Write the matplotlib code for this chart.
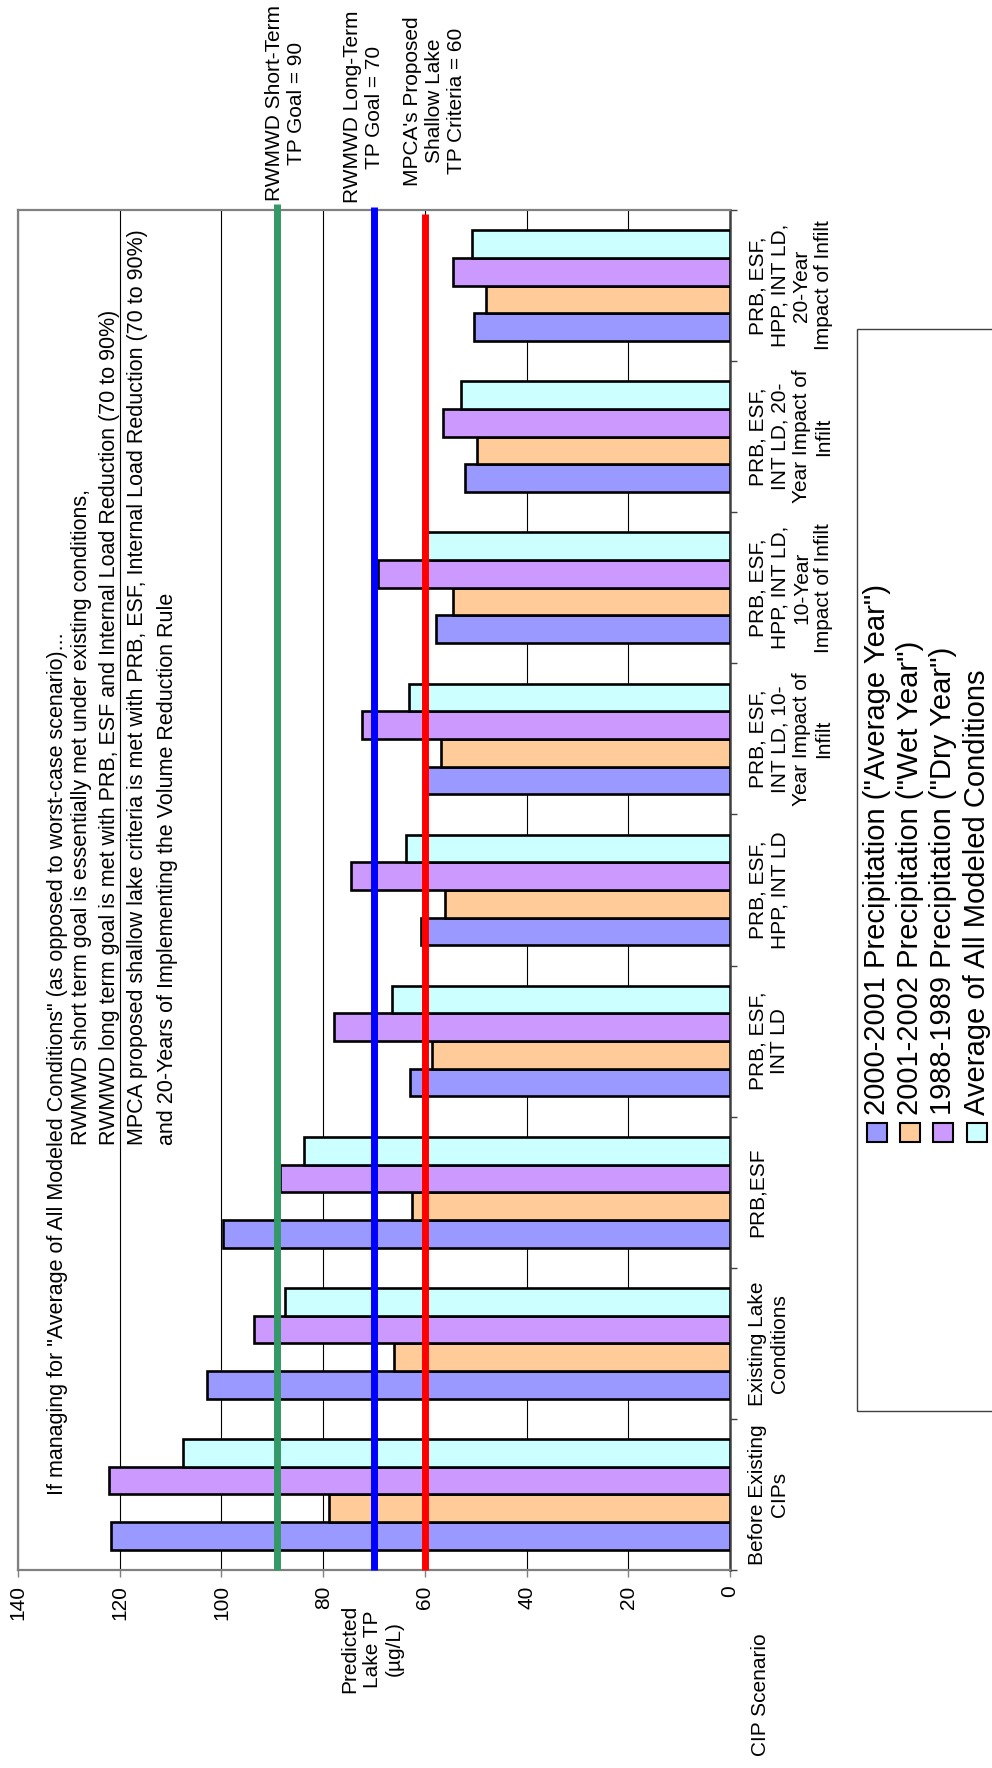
"""Predicted lake TP by CIP scenario (sideways bar chart, read bottom-to-top)."""

import matplotlib

matplotlib.use("Agg")
import matplotlib.pyplot as plt
import numpy as np
from matplotlib.patches import Rectangle

plt.rcParams["font.family"] = ["Liberation Sans", "DejaVu Sans"]

W, H = 992, 1768

SCENARIOS = [
    "Before Existing\nCIPs",
    "Existing Lake\nConditions",
    "PRB,ESF",
    "PRB, ESF,\nINT LD",
    "PRB, ESF,\nHPP, INT LD",
    "PRB, ESF,\nINT LD, 10-\nYear Impact of\nInfilt",
    "PRB, ESF,\nHPP, INT LD,\n10-Year\nImpact of Infilt",
    "PRB, ESF,\nINT LD, 20-\nYear Impact of\nInfilt",
    "PRB, ESF,\nHPP, INT LD,\n20-Year\nImpact of Infilt",
]
TP_AVERAGE_YEAR = [121.8, 102.9, 99.7, 63.0, 60.8, 59.5, 57.8, 52.1, 50.4]
TP_WET_YEAR = [78.8, 66.0, 62.5, 58.6, 56.0, 56.9, 54.4, 49.7, 47.9]
TP_DRY_YEAR = [122.2, 93.6, 88.5, 77.8, 74.6, 72.3, 69.2, 56.4, 54.4]
TP_ALL_CONDITIONS = [107.6, 87.5, 83.8, 66.4, 63.7, 63.1, 60.3, 52.8, 50.8]

SERIES_LABELS = [
    '2000-2001 Precipitation ("Average Year")',
    '2001-2002 Precipitation ("Wet Year")',
    '1988-1989 Precipitation ("Dry Year")',
    "Average of All Modeled Conditions",
]
SERIES_COLORS = ["#9999FF", "#FFCC99", "#CC99FF", "#CCFFFF"]

GOAL_VALUES = [89, 70, 60]
GOAL_LABELS = [
    "RWMWD Short-Term\nTP Goal = 90",
    "RWMWD Long-Term\nTP Goal = 70",
    "MPCA's Proposed\nShallow Lake\nTP Criteria = 60",
]
GOAL_COLORS = ["#339966", "#0000FF", "#FF0000"]

NOTES = [
    'If managing for "Average of All Modeled Conditions" (as opposed to worst-case scenario)...',
    "RWMWD short term goal is essentially met under existing conditions,",
    "RWMWD long term goal is met with PRB, ESF and Internal Load Reduction (70 to 90%)",
    "MPCA proposed shallow lake criteria is met with PRB, ESF, Internal Load Reduction (70 to 90%)",
    "and 20-Years of Implementing the Volume Reduction Rule",
]


def fx(x):
    return x / W


def fy(y):
    return 1 - y / H


fig = plt.figure(figsize=(W / 100, H / 100), dpi=100)
ax = fig.add_axes([fx(18), fy(1570), 712 / W, 1360 / H])

pos = np.arange(len(SCENARIOS))
bar_h = 0.183
series = [TP_AVERAGE_YEAR, TP_WET_YEAR, TP_DRY_YEAR, TP_ALL_CONDITIONS]
for i, (vals, color) in enumerate(zip(series, SERIES_COLORS)):
    ax.barh(pos + (i - 1.5) * bar_h, vals, height=bar_h, color=color,
            edgecolor="black", linewidth=1.9, zorder=3)

# goal lines poke a little past the top of the plot like the original
tops = [1.0044, 1.0022, 0.997]
for val, color, top in zip(GOAL_VALUES, GOAL_COLORS, tops):
    ax.axvline(val, ymin=0, ymax=top, color=color, linewidth=5, zorder=4,
               clip_on=False, solid_capstyle="butt")

ax.set_xlim(140, 0)
ax.set_ylim(-0.5, len(SCENARIOS) - 0.5)
ax.set_axisbelow(True)
ax.grid(True, axis="x", color="black", linewidth=0.8)
ax.grid(False, axis="y")

ticks = list(range(0, 141, 20))
ax.set_xticks(ticks)
ax.set_xticklabels([str(t) for t in ticks], rotation=90, fontsize=15)
ax.tick_params(axis="x", length=5, width=1, color="#808080", pad=6)

ax.yaxis.tick_right()
ax.set_yticks(pos)
ax.set_yticklabels(SCENARIOS, rotation=90, va="center", ha="left",
                   multialignment="center", fontsize=15)
ax.set_yticks(np.arange(-0.5, len(SCENARIOS), 1), minor=True)
ax.tick_params(axis="y", which="major", length=0, pad=13)
ax.tick_params(axis="y", which="minor", length=5, width=1, color="#404040",
               direction="out")

for side in ["left", "top", "bottom"]:
    ax.spines[side].set_color("#808080")
    ax.spines[side].set_linewidth(1.6)
ax.spines["right"].set_color("#404040")
ax.spines["right"].set_linewidth(1.8)

# notes inside the plot, written along the bars
note_pos = [(57, 1495), (82, 1145), (110, 1145), (138, 1145), (167, 1145)]
for (x, y), txt in zip(note_pos, NOTES):
    fig.text(fx(x), fy(y), txt, rotation=90, rotation_mode="anchor",
             ha="left", va="center", fontsize=15.5)

# goal labels above the plot
goal_pos = [(286, 103), (363, 107), (434, 101)]
for (x, y), txt in zip(goal_pos, GOAL_LABELS):
    fig.text(fx(x), fy(y), txt, rotation=90, ha="center", va="center",
             multialignment="center", fontsize=15)

fig.text(fx(372), fy(1649), "Predicted\nLake TP\n(\u00b5g/L)", rotation=90,
         ha="center", va="center", multialignment="center", fontsize=15)
fig.text(fx(760), fy(1695), "CIP Scenario", rotation=90, ha="center",
         va="center", fontsize=15)

# legend, drawn by hand because it is sideways too
fig.add_artist(Rectangle((fx(857), fy(1411)), (1010 - 857) / W, (1411 - 329) / H,
                         transform=fig.transFigure, fill=False,
                         edgecolor="#404040", linewidth=1, clip_on=False))
leg_x = [877, 910, 943, 977]
for x, label, color in zip(leg_x, SERIES_LABELS, SERIES_COLORS):
    fig.add_artist(Rectangle((fx(x - 10), fy(1142)), 20 / W, 19 / H,
                             transform=fig.transFigure, facecolor=color,
                             edgecolor="black", linewidth=1.5))
    fig.text(fx(x), fy(1115), label, rotation=90, rotation_mode="anchor",
             ha="left", va="center", fontsize=21)

fig.savefig("out.png", dpi=100)
